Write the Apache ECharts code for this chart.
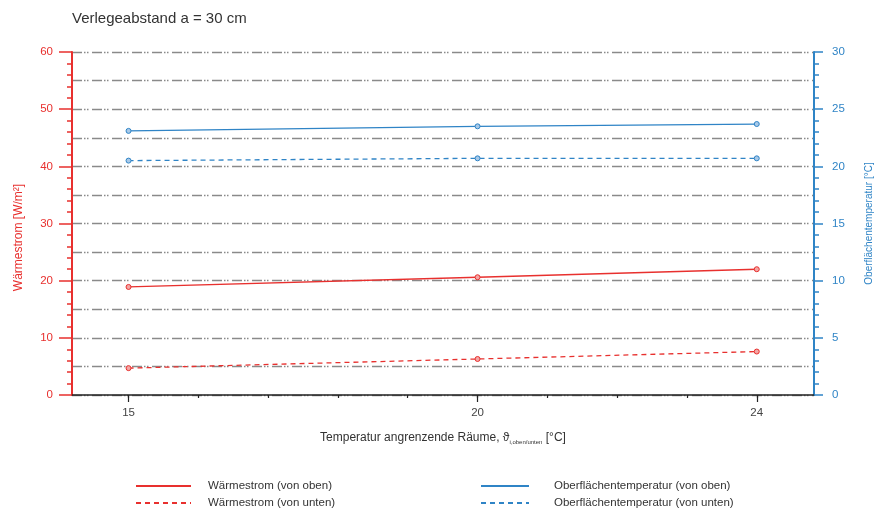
<!DOCTYPE html>
<html>
<head>
<meta charset="utf-8">
<script src="https://cdn.jsdelivr.net/npm/echarts@6/dist/echarts.min.js"></script>
<style>html,body{margin:0;padding:0;background:#fff;}#c{width:877px;height:511px;}</style>
</head>
<body>
<div id="c"></div>
<script>
// Data
const xValues = [15, 20, 24];
const heatTop = [18.9, 20.6, 22.0];      // Wärmestrom (von oben) [W/m²]
const heatBottom = [4.7, 6.3, 7.6];      // Wärmestrom (von unten) [W/m²]
const surfTop = [23.1, 23.5, 23.7];      // Oberflächentemperatur (von oben) [°C]
const surfBottom = [20.5, 20.7, 20.7];   // Oberflächentemperatur (von unten) [°C]
const xTickValues = [15, 16, 17, 18, 19, 20, 21, 22, 23, 24];
const xLabelValues = [15, 20, 24];
const names = ['Wärmestrom (von oben)', 'Wärmestrom (von unten)', 'Oberflächentemperatur (von oben)', 'Oberflächentemperatur (von unten)'];

const RED = '#e8302e';
const BLUE = '#2f84c6';
const FONT = 'Liberation Sans';
const pair = (ys) => xValues.map((x, i) => [x, ys[i]]);

const chart = echarts.init(document.getElementById('c'), null, {renderer: 'canvas'});
chart.setOption({
  animation: false,
  backgroundColor: '#fff',
  textStyle: {fontFamily: FONT},
  title: {
    text: 'Verlegeabstand a = 30 cm',
    left: 72, top: 11, padding: 0,
    textStyle: {fontSize: 15, fontWeight: 'normal', color: '#333', fontFamily: FONT}
  },
  grid: {left: 72, right: 63, top: 52, bottom: 116, containLabel: false, outerBoundsMode: 'none'},
  legend: [
    {
      orient: 'vertical', left: 135, top: 480, padding: 0, itemWidth: 55, itemHeight: 12, itemGap: 5,
      data: [names[0], names[1]],
      itemStyle: {opacity: 0},
      textStyle: {fontSize: 11.5, color: '#333', padding: [0, 0, 0, 12]}
    },
    {
      orient: 'vertical', left: 480, top: 480, padding: 0, itemWidth: 48, itemHeight: 12, itemGap: 5,
      data: [names[2], names[3]],
      itemStyle: {opacity: 0},
      textStyle: {fontSize: 11.5, color: '#333', padding: [0, 0, 0, 20]}
    }
  ],
  xAxis: [
    {
      type: 'value', min: 14.19, max: 24.82, position: 'bottom',
      axisLine: {show: true, lineStyle: {color: '#222', width: 1.5}},
      axisTick: {show: true, customValues: xTickValues, length: 3, lineStyle: {color: '#222', width: 1.2}},
      axisLabel: {show: false},
      splitLine: {show: false}
    },
    {
      type: 'value', min: 14.19, max: 24.82, position: 'bottom', offset: 0,
      axisLine: {show: false},
      axisTick: {show: true, customValues: xLabelValues, length: 7, lineStyle: {color: '#222', width: 1.2}},
      axisLabel: {show: true, customValues: xLabelValues, fontSize: 11.5, color: '#444', margin: 12},
      splitLine: {show: false},
      name: '{a|Temperatur angrenzende Räume, ϑ}{s|i,oben/unten}{a| [°C]}',
      nameLocation: 'middle', nameGap: 36,
      nameTextStyle: {
        rich: {
          a: {fontSize: 12, color: '#333', fontFamily: FONT},
          s: {fontSize: 6, color: '#333', fontFamily: FONT, padding: [8, 0, 0, 0]}
        }
      }
    }
  ],
  yAxis: [
    {
      type: 'value', min: 0, max: 60, interval: 10, position: 'left',
      name: 'Wärmestrom [W/m²]', nameLocation: 'middle', nameGap: 47, nameRotate: 90,
      nameTextStyle: {color: RED, fontSize: 12, padding: [0, 28, 0, 0]},
      axisLine: {show: true, lineStyle: {color: RED, width: 2}},
      axisTick: {show: true, length: 13, lineStyle: {color: RED, width: 1.5}},
      minorTick: {show: true, splitNumber: 5, length: 5, lineStyle: {color: RED, width: 1.5}},
      axisLabel: {color: RED, fontSize: 11.5, margin: 19},
      splitLine: {show: false}
    },
    {
      type: 'value', min: 0, max: 30, interval: 5, position: 'right',
      name: 'Oberflächentemperatur [°C]', nameLocation: 'middle', nameGap: 50, nameRotate: 90,
      nameTextStyle: {color: BLUE, fontSize: 10},
      axisLine: {show: true, lineStyle: {color: BLUE, width: 2}},
      axisTick: {show: true, length: 9, lineStyle: {color: BLUE, width: 1.5}},
      minorTick: {show: true, splitNumber: 5, length: 5, lineStyle: {color: BLUE, width: 1.5}},
      axisLabel: {color: BLUE, fontSize: 11.5, margin: 18},
      splitLine: {show: false}
    },
    {
      type: 'value', min: 0, max: 60, interval: 5, position: 'left',
      axisLine: {show: false}, axisTick: {show: false}, axisLabel: {show: false},
      splitLine: {show: true, lineStyle: {color: '#8a8a8a', width: 1.4, type: [10, 2, 1.5, 1.5, 1.5, 3.5]}}
    }
  ],
  series: [
    {
      name: names[0], type: 'line', xAxisIndex: 0, yAxisIndex: 0, data: pair(heatTop),
      symbol: 'circle', symbolSize: 5, color: RED,
      itemStyle: {color: '#f3a6a5', borderColor: RED, borderWidth: 1},
      lineStyle: {color: RED, width: 1.3}
    },
    {
      name: names[1], type: 'line', xAxisIndex: 0, yAxisIndex: 0, data: pair(heatBottom),
      symbol: 'circle', symbolSize: 5, color: RED,
      itemStyle: {color: '#f3a6a5', borderColor: RED, borderWidth: 1},
      lineStyle: {color: RED, width: 1.3, type: [5, 4]}
    },
    {
      name: names[2], type: 'line', xAxisIndex: 0, yAxisIndex: 1, data: pair(surfTop),
      symbol: 'circle', symbolSize: 5, color: BLUE,
      itemStyle: {color: '#a8c9e8', borderColor: BLUE, borderWidth: 1},
      lineStyle: {color: BLUE, width: 1.3}
    },
    {
      name: names[3], type: 'line', xAxisIndex: 0, yAxisIndex: 1, data: pair(surfBottom),
      symbol: 'circle', symbolSize: 5, color: BLUE,
      itemStyle: {color: '#a8c9e8', borderColor: BLUE, borderWidth: 1},
      lineStyle: {color: BLUE, width: 1.3, type: [5, 4]}
    }
  ]
});
</script>
</body>
</html>
